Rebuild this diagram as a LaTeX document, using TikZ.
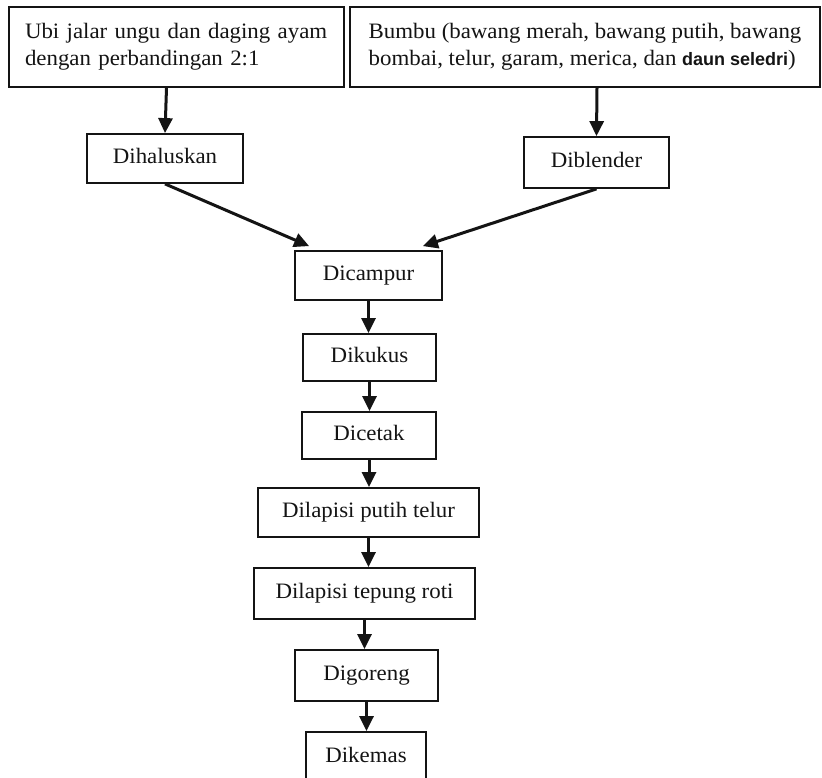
\documentclass[tikz,border=0pt]{standalone}
\usepackage{fontspec}
\setmainfont[FakeStretch=1.04]{Liberation Serif}
\newfontfamily\labelsans{Liberation Sans}
\usepackage{xcolor}
\definecolor{ink}{RGB}{20,20,20}
\usepackage{tikz}
\usetikzlibrary{arrows.meta,positioning}

\begin{document}
\begin{tikzpicture}[
    x=1pt, y=-1pt,
    every node/.style={font=\fontsize{22}{27}\selectfont, text=ink},
    inbox/.style={draw=ink, line width=1.8pt, align=left, inner xsep=16pt},
    stepbox/.style={draw=ink, line width=1.8pt, text height=15pt, text depth=5pt},
    flow/.style={draw=ink, line width=3pt, -{Triangle[length=15pt,width=14pt]}}
]

\useasboundingbox (0,0) rectangle (822,778);
\clip (0,0) rectangle (822,778);
\fill[white] (0,0) rectangle (822,778);

% Ingredients
\node[inbox, text width=303pt, minimum height=80pt] (ubi) at (176.5,47)
    {Ubi jalar ungu dan daging ayam\\dengan perbandingan 2:1};
\node[inbox, minimum width=470pt, minimum height=80pt] (bumbu) at (585,47)
    {Bumbu (bawang merah, bawang putih, bawang\\bombai, telur, garam, merica, dan {\labelsans\bfseries\fontsize{18}{27}\selectfont daun seledri})};

% Preparation
\node[stepbox, minimum width=156pt, minimum height=49pt] (halus) at (165,158.5) {Dihaluskan};
\node[stepbox, minimum width=145pt, minimum height=51pt] (blender) at (596.5,162.5) {Diblender};

% Processing chain
\node[stepbox, minimum width=147pt, minimum height=49pt] (campur) at (368.5,275.5) {Dicampur};
\node[stepbox, minimum width=133pt, minimum height=47pt] (kukus) at (369.5,357.5) {Dikukus};
\node[stepbox, minimum width=134pt, minimum height=47pt] (cetak) at (369,435.5) {Dicetak};
\node[stepbox, minimum width=221pt, minimum height=49pt] (putih) at (368.5,512.5) {Dilapisi putih telur};
\node[stepbox, minimum width=221pt, minimum height=51pt] (tepung) at (364.5,593.5) {Dilapisi tepung roti};
\node[stepbox, minimum width=143pt, minimum height=51pt] (goreng) at (366.5,675.5) {Digoreng};
\node[stepbox, minimum width=120pt, minimum height=50pt] (kemas) at (366,757) {Dikemas};

% Arrows
\draw[flow] ([xshift=-10pt]ubi.south) -- (halus.north);
\draw[flow] ([xshift=12pt]bumbu.south) -- (blender.north);
\draw[flow] (halus.south) -- ([xshift=15pt, yshift=4pt]campur.north west);
\draw[flow] (blender.south) -- ([xshift=-20pt, yshift=4pt]campur.north east);
\draw[flow] (campur.south) -- (campur.south |- kukus.north);
\draw[flow] (kukus.south) -- (kukus.south |- cetak.north);
\draw[flow] (cetak.south) -- (cetak.south |- putih.north);
\draw[flow] (putih.south) -- (putih.south |- tepung.north);
\draw[flow] (tepung.south) -- (tepung.south |- goreng.north);
\draw[flow] (goreng.south) -- (goreng.south |- kemas.north);

\end{tikzpicture}
\end{document}
